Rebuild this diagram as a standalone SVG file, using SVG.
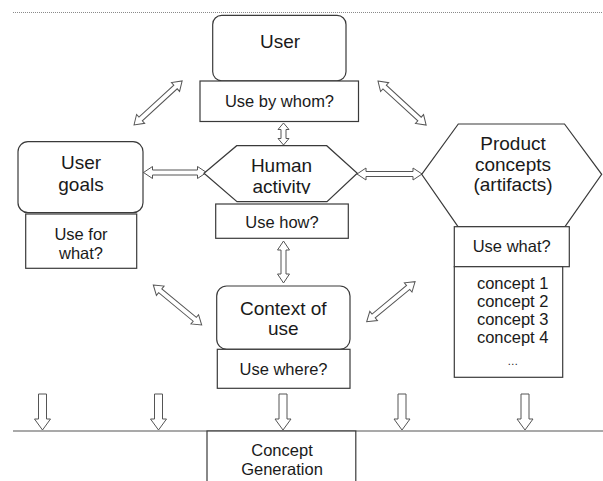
<svg xmlns="http://www.w3.org/2000/svg" width="603" height="481" viewBox="0 0 603 481">
  <style>
    .shape { fill: #ffffff; stroke: #3a3a3a; stroke-width: 1.2; }
    .arrow { fill: #ffffff; stroke: #555555; stroke-width: 1; stroke-linejoin: miter; }
    .big { font-family: "Liberation Sans", Arial, sans-serif; font-size: 19px; fill: #1a1a1a; text-anchor: middle; }
    .small { font-family: "Liberation Sans", Arial, sans-serif; font-size: 16.5px; fill: #1a1a1a; text-anchor: middle; }
    .rule { stroke: #555555; stroke-width: 1.2; fill: none; }
    .dots { stroke: #8a8a8a; stroke-width: 1.2; stroke-dasharray: 1 1; fill: none; }
  </style>
  <defs>
    <!-- text frame of the "Human activity" label cuts off the descender -->
    <clipPath id="activityClip">
      <rect x="200" y="140" width="160" height="54"/>
    </clipPath>
  </defs>

  <rect width="603" height="481" fill="#ffffff"/>

  <!-- page rules -->
  <line class="dots" x1="13" y1="12.5" x2="603" y2="12.5"/>
  <line class="rule" x1="13" y1="431" x2="603" y2="431"/>

  <!-- connectors: hollow block arrows -->
  <g id="connectors">
    <!-- user <-> user goals (diagonal) -->
    <path class="arrow" transform="translate(134,125) rotate(-42.5)" d="M0,0 L9,-6 L9,-2.5 L56.3,-2.5 L56.3,-6 L65.3,0 L56.3,6 L56.3,2.5 L9,2.5 L9,6 Z"/>
    <!-- user <-> product concepts (diagonal) -->
    <path class="arrow" transform="translate(378,81) rotate(42.5)" d="M0,0 L9,-6 L9,-2.5 L56.3,-2.5 L56.3,-6 L65.3,0 L56.3,6 L56.3,2.5 L9,2.5 L9,6 Z"/>
    <!-- user <-> human activity -->
    <path class="arrow" d="M283.5,123 L289,129.5 L286,129.5 L286,138.5 L289,138.5 L283.5,145 L278,138.5 L281,138.5 L281,129.5 L278,129.5 Z"/>
    <!-- user goals <-> human activity -->
    <path class="arrow" d="M143.5,172.5 L152.5,166.5 L152.5,170 L197.5,170 L197.5,166.5 L206.5,172.5 L197.5,178.5 L197.5,175 L152.5,175 L152.5,178.5 Z"/>
    <!-- human activity <-> product concepts -->
    <path class="arrow" d="M357,174 L366,168 L366,171.5 L413,171.5 L413,168 L422,174 L413,180 L413,176.5 L366,176.5 L366,180 Z"/>
    <!-- human activity <-> context of use -->
    <path class="arrow" d="M283.5,241 L289.5,250 L286,250 L286,274 L289.5,274 L283.5,283 L277.5,274 L281,274 L281,250 L277.5,250 Z"/>
    <!-- user goals <-> context of use (diagonal) -->
    <path class="arrow" transform="translate(153.3,285) rotate(39.6)" d="M0,0 L9,-6 L9,-2.5 L53.8,-2.5 L53.8,-6 L62.8,0 L53.8,6 L53.8,2.5 L9,2.5 L9,6 Z"/>
    <!-- context of use <-> product concepts (diagonal) -->
    <path class="arrow" transform="translate(366.7,321.7) rotate(-39.6)" d="M0,0 L9,-6 L9,-2.5 L53.8,-2.5 L53.8,-6 L62.8,0 L53.8,6 L53.8,2.5 L9,2.5 L9,6 Z"/>
    <!-- feeds into concept generation -->
    <path class="arrow" transform="translate(42.5,0)" d="M-4,394 L4,394 L4,419 L8,419 L0,430 L-8,419 L-4,419 Z"/>
    <path class="arrow" transform="translate(158.5,0)" d="M-4,394 L4,394 L4,419 L8,419 L0,430 L-8,419 L-4,419 Z"/>
    <path class="arrow" transform="translate(283,0)" d="M-4,394 L4,394 L4,419 L8,419 L0,430 L-8,419 L-4,419 Z"/>
    <path class="arrow" transform="translate(402,0)" d="M-4,394 L4,394 L4,419 L8,419 L0,430 L-8,419 L-4,419 Z"/>
    <path class="arrow" transform="translate(525,0)" d="M-4,394 L4,394 L4,419 L8,419 L0,430 L-8,419 L-4,419 Z"/>
  </g>

  <!-- User -->
  <g id="user">
    <rect class="shape" x="212.7" y="15.4" width="133.3" height="65.4" rx="9"/>
    <text class="big" x="280" y="48">User</text>
  </g>
  <g id="use-by-whom">
    <rect class="shape" x="200" y="81" width="158.5" height="40.5"/>
    <text class="small" x="279.5" y="107">Use by whom?</text>
  </g>

  <!-- User goals -->
  <g id="user-goals">
    <rect class="shape" x="18" y="141.7" width="125" height="71" rx="10"/>
    <text class="big" x="81" y="169">User</text>
    <text class="big" x="81" y="191">goals</text>
  </g>
  <g id="use-for-what">
    <rect class="shape" x="25.7" y="214" width="111" height="54.3"/>
    <text class="small" x="81" y="240">Use for</text>
    <text class="small" x="81" y="258.5">what?</text>
  </g>

  <!-- Human activity -->
  <g id="human-activity">
    <polygon class="shape" points="204,173.3 236.7,145.7 326.7,145.7 357.3,173.3 327,201.7 237,201.7"/>
    <text class="big" x="281.5" y="171.5">Human</text>
    <text class="big" x="281.5" y="192.5" clip-path="url(#activityClip)">activity</text>
  </g>
  <g id="use-how">
    <rect class="shape" x="215.7" y="204" width="132.6" height="34.3"/>
    <text class="small" x="282" y="227.5">Use how?</text>
  </g>

  <!-- Product concepts -->
  <g id="product-concepts">
    <polygon class="shape" points="421.7,174.3 458.3,124 564.5,124 601.7,174.3 565,226.7 458,226.7"/>
    <text class="big" x="513" y="150">Product</text>
    <text class="big" x="513" y="170.5">concepts</text>
    <text class="big" x="513" y="190.5">(artifacts)</text>
  </g>
  <g id="use-what">
    <rect class="shape" x="454.3" y="226.7" width="115" height="40"/>
    <text class="small" x="511.7" y="252">Use what?</text>
  </g>
  <g id="concept-list">
    <rect class="shape" x="454.3" y="266.7" width="108.4" height="110.6"/>
    <text class="small" x="512.7" y="288.5">concept 1</text>
    <text class="small" x="512.7" y="306.8">concept 2</text>
    <text class="small" x="512.7" y="325.1">concept 3</text>
    <text class="small" x="512.7" y="343.4">concept 4</text>
    <text class="small" x="512.7" y="365" style="font-size:11px">…</text>
  </g>

  <!-- Context of use -->
  <g id="context-of-use">
    <rect class="shape" x="216.7" y="286" width="133.3" height="63.3" rx="10"/>
    <text class="big" x="283.3" y="314.5">Context of</text>
    <text class="big" x="283.3" y="335">use</text>
  </g>
  <g id="use-where">
    <rect class="shape" x="217.3" y="349.3" width="132.7" height="39"/>
    <text class="small" x="283.5" y="375">Use where?</text>
  </g>

  <!-- Concept generation -->
  <g id="concept-generation">
    <rect class="shape" x="207" y="431" width="148.8" height="60"/>
    <text class="small" x="282" y="456">Concept</text>
    <text class="small" x="282" y="475">Generation</text>
  </g>
</svg>
